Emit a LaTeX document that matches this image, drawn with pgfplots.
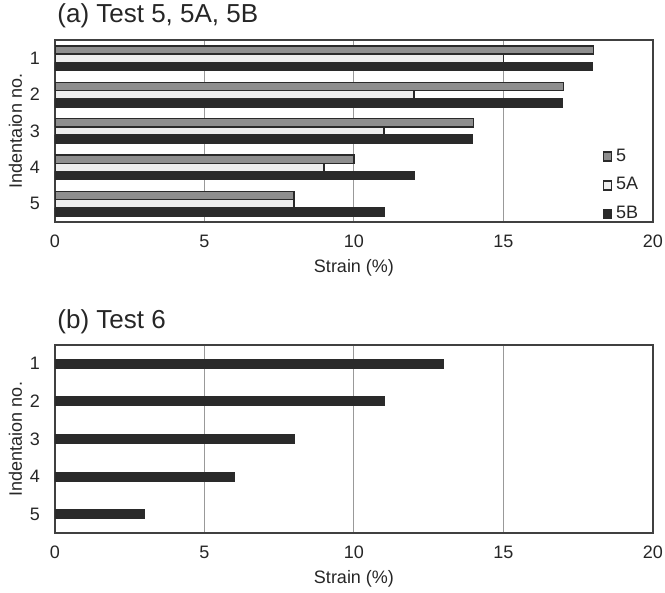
\documentclass[border=0pt]{standalone}
\usepackage{pgfplots}
\pgfplotsset{compat=1.18}
\usepackage{fontspec}
\setmainfont{Liberation Sans}
\definecolor{gbar}{HTML}{8E8E8E}
\definecolor{lbar}{HTML}{EDEDED}
\definecolor{dbar}{HTML}{2A2A2A}
\definecolor{txt}{HTML}{262626}
\pgfplotsset{
  leg/.style={legend image code/.code={\draw[##1,line width=0.8pt] (0pt,-2.2pt) rectangle (4pt,2.2pt);}},
  common/.style={
    scale only axis, width=299pt, xmin=0, xmax=20, ymin=0.5, ymax=5.5,
    y dir=reverse, xtick={0,5,10,15,20}, ytick={1,2,3,4,5},
    xmajorgrids, major grid style={color=black!40, line width=0.5pt},
    axis line style={color=black!75, line width=0.7pt},
    major tick length=0pt,
    tick label style={font=\fontsize{9}{10}\selectfont, color=txt},
    /pgf/number format/assume math mode=true,
    xticklabel style={yshift=-3pt},
    yticklabel style={xshift=-4pt},
    xlabel={Strain (\%)}, ylabel={Indentaion no.},
    label style={font=\fontsize{9}{10}\selectfont, color=txt},
    xlabel style={at={(axis description cs:0.5,0)}, anchor=center, yshift=-23pt},
    ylabel style={at={(axis description cs:-0.066,0.5)}, anchor=center},
    title style={at={(axis description cs:0,1)}, anchor=base west, yshift=2.5pt, xshift=1pt,
      inner sep=0pt, font=\fontsize{13}{15}\selectfont, text=txt},
    xbar, anchor=north west,
  }
}
\pgfplotstableread{
n  s5 s5A s5B
1  18 15  17.97
2  17 12  16.97
3  14 11  13.95
4  10 9   12
5  8  8   11
}\tA
\pgfplotstableread{
n  s6
1  13
2  11
3  8
4  6
5  3
}\tB
\begin{document}
\begin{tikzpicture}
\begin{axis}[common, at={(0pt,0pt)}, height=91pt, bar width=0.225,
  title={(a) Test 5, 5A, 5B},
  legend style={at={(rel axis cs:0.905,-0.045)}, anchor=south west, draw=none, fill=none,
    font=\fontsize{9}{10}\selectfont, text=txt, row sep=2.7pt,
    /tikz/every even column/.append style={column sep=0pt}},
  legend cell align=left]
\addplot[leg, bar shift=-0.225, fill=gbar, draw=dbar, line width=0.7pt] table[x=s5, y=n] {\tA};
\addplot[leg, bar shift=0, fill=lbar, draw=dbar, line width=0.7pt] table[x=s5A, y=n] {\tA};
\addplot[leg, bar shift=0.225, fill=dbar, draw=dbar, line width=0.7pt] table[x=s5B, y=n] {\tA};
\legend{5,5A,5B}
\end{axis}
\begin{axis}[common, at={(0pt,-152.5pt)}, height=94pt, bar width=0.23,
  title={(b) Test 6}]
\addplot[bar shift=0, fill=dbar, draw=dbar, line width=0.7pt] table[x=s6, y=n] {\tB};
\end{axis}
\pgfresetboundingbox
\path[use as bounding box] (-27.5pt,20pt) rectangle (305pt,-276.5pt);
\end{tikzpicture}
\end{document}
